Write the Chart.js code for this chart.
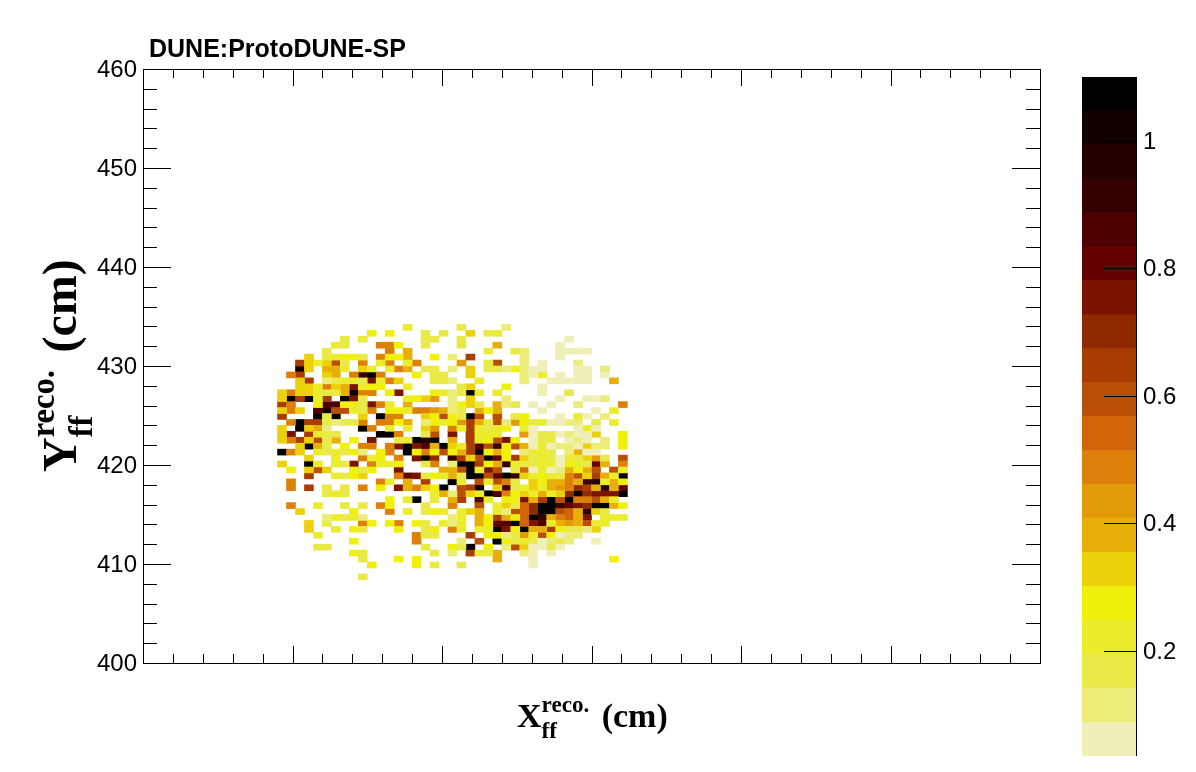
<!DOCTYPE html>
<html>
<head>
<meta charset="utf-8">
<script src="https://cdn.jsdelivr.net/npm/chart.js@4"></script>
<style>
  html, body { margin: 0; padding: 0; background: #fff; }
  canvas { position: absolute; left: 0; top: 0; }
</style>
</head>
<body>
<canvas id="hist" width="1196" height="772"></canvas>
<canvas id="zbar" width="1196" height="772"></canvas>
<script>
// one colour per z level, bottom of the palette first
const palette = ['#f0efb8', '#ecec78', '#e9ea48', '#ebed2c', '#f0f00c', '#ecd00a', '#e8ae0a', '#e39a08', '#dd800a', '#d2650a',
                 '#b94f06', '#a83c02', '#902800', '#7a1400', '#640000', '#4e0000', '#360000', '#240000', '#120000', '#000000'];
const zEdges = [0.035, 0.088, 0.142, 0.195, 0.248, 0.301, 0.355, 0.408, 0.461, 0.514, 0.568,
                0.621, 0.674, 0.727, 0.781, 0.834, 0.887, 0.940, 0.994, 1.047, 1.100];
const zTicks = [0.2, 0.4, 0.6, 0.8, 1];
const levelChars = '0123456789abcdefghij';

// axes
const xRange = [0, 60];
const yRange = [400, 460];
const xMajor = [10, 20, 30, 40, 50];
const xMinor = [2, 4, 6, 8, 12, 14, 16, 18, 22, 24, 26, 28, 32, 34, 36, 38, 42, 44, 46, 48, 52, 54, 56, 58];
const yMajor = [410, 420, 430, 440, 450];
const yMinor = [402, 404, 406, 408, 412, 414, 416, 418, 422, 424, 426, 428, 432, 434, 436, 438, 442, 444, 446, 448, 452, 454, 456, 458];
const binSize = 0.6;

// z level per bin. one string per y bin, top row first,
// first char is x bin 15, spaces only to keep columns readable, dot = empty
const firstXBin = 15;
const firstYBin = 43; // counted down from y=460
const levelRows = [
  '..... ..... ....3 ..... 2.... 1.... ..... .....',
  '..... ..... 4.4.. .2.2. .5.23 ..... ..... .....',
  '..... ..2.2 ..... .22.. 2.... ..... ..0.. .....',
  '..... .32.. .884. .2... 2...6 ..... .0... .....',
  '..... 2.... ..8.6 ..... ...2. .21.. .0000 .....',
  '...5. 23442 .8446 ..4.1 .b... ..1.. .0... .....',
  '..b53 5a2.8 .38.3 8.... 7..2a ..1.0 ...1. .....',
  '..i5. 663.5 3.386 .22.1 .5.22 14100 ...00 .1...',
  '.8b.. 56.8g j8... 4.22. .5... ..103 .0.00 .0...',
  '..5b. 12332 d385. ..221 ..3.. ..1.. 00000 ..6..',
  '..553 856d3 44..3 ..... 25... 4...0 ..... .....',
  '58553 226j8 8.4d. ..431 2j3.3 ....0 ..2.. .....',
  '5jbj3 b.jd2 ....3 457.1 .5... 1.... .0..0 01...',
  'b8..4 ff442 d83.6 ....1 452.6 12.0. 0..1. ...8.',
  '585.f iaa32 8.443 88761 2.646 ....0 ..... 0.3..',
  'b...j 2j..5 .j88. .54a4 2ja.a .24.. .0.30 .1...',
  '.8jbb 21228 .8846 .1434 7b62a 17423 0011. 2.3..',
  '5.j56 1...j 8.3.3 .57.8 3b323 4.30. ...03 0....',
  '5d.b3 22... .jj8. .2a.d .b333 ..702 20100 5..4.',
  '58b5a 26.4. d..23 jhj.6 .b34a d4.02 2.010 .1.4.',
  '..5j6 2.4.8 8.8dj df6j5 3bfag 4a603 01105 11.4.',
  'j85.3 23241 .48.j 484a4 6bj46 4.133 2.160 0....',
  '...5. .3..8 34.8. djc.g b5aje 4b523 20325 72.a.',
  '5..j3 .32d. 8334. .28.1 jjb46 g3223 30432 e6.8.',
  '.4.5a 5..42 4..d. ...66 aj3da .2903 01646 a.a3.',
  '...b. .3245 ...8e d2436 2jjae jg534 328a5 b63j.',
  '.8... ..... .83.6 .b..j 3.a3a 82.54 6686g h364.',
  '.8.b. 2.2.8 .4.d6 854j. abj.5 f2353 678cb 6h6e.',
  '..... 232.. ..... ..361 a53jf 84536 35cjc dddj.',
  '..... ..... ..4.3 j.2.6 b.f3. 44d6b jaj88 a63..',
  '.8..3 ..2.2 .84.. .2..8 ..a.3 529cj jgedc jj64.',
  '..5.. ...4. ..8.3 .243. 356.3 1a9cj ja96h 52...',
  '..... 13231 ..... ....1 3.64b 649jg 6896d .333.',
  '...5. 2...8 4.48. 42.31 3.64e fj9df 3676a 33...',
  '...5. .3.42 ...4. .24.8 3.33j d4j66 b4221 5....',
  '....3 ..... ..... 822.. .b.44 1273a 4011. .....',
  '..... ...4. ..... 8.... 1.a.j 42320 121.. 0....',
  '....2 2.... ..... .2..4 2j.4. 1a500 20... .....',
  '..... ...42 ..... ..2.1 .b326 ..10. 0.... .....',
  '..... ....2 ...4. 4.... ....6 ...0. ..... ..4..',
  '..... ..... 4.... 4.2.. 2.... ...0. ..... .....',
  '..... ..... ..... ..... ..... ..... ..... .....',
  '..... ....2 ..... ..... ..... ..... ..... .....'
];

function histDatasets() {
  const sets = palette.map(c => ({ data: [], backgroundColor: c }));
  levelRows.forEach((row, r) => {
    const top = yRange[1] - binSize * (firstYBin + r);
    row.replace(/ /g, '').split('').forEach((ch, i) => {
      if (ch === '.') return;
      sets[levelChars.indexOf(ch)].data.push({
        x: binSize * (firstXBin + i + 0.5),
        y: [top - binSize, top]
      });
    });
  });
  return sets;
}

function line(ctx, x0, y0, x1, y1) {
  ctx.beginPath();
  ctx.moveTo(x0, y0);
  ctx.lineTo(x1, y1);
  ctx.stroke();
}

// ROOT style frame, ticks point inwards on all four sides
const framePlugin = {
  id: 'frame',
  afterDatasetsDraw(chart) {
    const { ctx, chartArea: a, scales } = chart;
    const crisp = v => Math.round(v) + 0.5;
    ctx.save();
    ctx.strokeStyle = '#000';
    ctx.lineWidth = 1;
    ctx.strokeRect(crisp(a.left), crisp(a.top), Math.round(a.right - a.left), Math.round(a.bottom - a.top));
    const xTick = (v, len) => {
      const p = crisp(scales.x.getPixelForValue(v));
      line(ctx, p, a.bottom, p, a.bottom - len);
      line(ctx, p, a.top, p, a.top + len);
    };
    const yTick = (v, len) => {
      const p = crisp(scales.y.getPixelForValue(v));
      line(ctx, a.left, p, a.left + len, p);
      line(ctx, a.right, p, a.right - len, p);
    };
    xMajor.forEach(v => xTick(v, 17));
    xMinor.forEach(v => xTick(v, 9));
    yMajor.forEach(v => yTick(v, 28));
    yMinor.forEach(v => yTick(v, 14));
    ctx.restore();
  }
};

// X_ff^reco. (cm) has a super and a subscript so it is put together by hand
function axisLabel(ctx, main, unit, size) {
  const font = s => 'bold ' + s + 'px "Liberation Serif"';
  const small = size * 0.68;
  ctx.font = font(size);
  ctx.fillText(main, 0, 0);
  const mainW = size * 0.722;
  ctx.fillText(unit, size * 2.49, 0);
  ctx.font = font(small);
  ctx.fillText('reco.', mainW, -size * 0.45);
  ctx.fillText('ff', mainW, size * 0.33);
}

const textPlugin = {
  id: 'texts',
  afterDraw(chart) {
    const ctx = chart.ctx;
    ctx.save();
    ctx.fillStyle = '#000';
    ctx.textAlign = 'left';
    ctx.textBaseline = 'alphabetic';
    ctx.font = 'bold 25px "Liberation Sans"';
    ctx.fillText('DUNE:ProtoDUNE-SP', 149, 56.5);
    ctx.save();
    ctx.translate(517, 727);
    axisLabel(ctx, 'X', '(cm)', 34);
    ctx.restore();
    ctx.save();
    ctx.translate(76, 472);
    ctx.rotate(-Math.PI / 2);
    axisLabel(ctx, 'Y', '(cm)', 48);
    ctx.restore();
    ctx.restore();
  }
};

new Chart('hist', {
  type: 'bar',
  data: { datasets: histDatasets() },
  plugins: [framePlugin, textPlugin],
  options: {
    responsive: false,
    animation: false,
    devicePixelRatio: 1,
    layout: { padding: { left: 0, right: 156, top: 69, bottom: 109 } },
    datasets: { bar: { grouped: false, barPercentage: 1, categoryPercentage: 1 } },
    plugins: { legend: { display: false }, tooltip: { enabled: false } },
    scales: {
      x: {
        type: 'linear', offset: false, min: xRange[0], max: xRange[1],
        grid: { display: false }, border: { display: false }, ticks: { display: false },
        afterFit(s) { s.height = 0; }
      },
      y: {
        min: yRange[0], max: yRange[1],
        grid: { display: false, drawTicks: false }, border: { display: false },
        ticks: { stepSize: 10, padding: 6, labelOffset: 1.5, color: '#000', font: { family: 'Liberation Sans', size: 24 } },
        afterFit(s) { s.width = 143; }
      }
    }
  }
});

const zbarPlugin = {
  id: 'zaxis',
  afterDatasetsDraw(chart) {
    const { ctx, chartArea: a, scales } = chart;
    ctx.save();
    ctx.strokeStyle = '#000';
    ctx.lineWidth = 1;
    line(ctx, a.right - 0.5, a.top, a.right - 0.5, a.bottom);
    zTicks.forEach(v => {
      const p = Math.round(scales.y.getPixelForValue(v)) + 0.5;
      line(ctx, a.right - 33, p, a.right, p);
    });
    ctx.restore();
  }
};

new Chart('zbar', {
  type: 'bar',
  data: {
    labels: ['z'],
    datasets: palette.map((c, i) => ({ data: [[zEdges[i], zEdges[i + 1]]], backgroundColor: c }))
  },
  plugins: [zbarPlugin],
  options: {
    responsive: false,
    animation: false,
    devicePixelRatio: 1,
    layout: { padding: { left: 1082, right: 0, top: 77, bottom: 16 } },
    datasets: { bar: { grouped: false, barPercentage: 1, categoryPercentage: 1 } },
    plugins: { legend: { display: false }, tooltip: { enabled: false } },
    scales: {
      x: {
        grid: { display: false }, border: { display: false }, ticks: { display: false },
        afterFit(s) { s.height = 0; }
      },
      y: {
        position: 'right', min: zEdges[0], max: zEdges[zEdges.length - 1],
        grid: { display: false, drawTicks: false }, border: { display: false },
        afterBuildTicks(s) { s.ticks = zTicks.map(v => ({ value: v })); },
        ticks: { padding: 6, labelOffset: 1.5, color: '#000', font: { family: 'Liberation Sans', size: 24 }, callback: v => String(v) },
        afterFit(s) { s.width = 59; s.paddingTop = 0; s.paddingBottom = 0; }
      }
    }
  }
});
</script>
</body>
</html>
